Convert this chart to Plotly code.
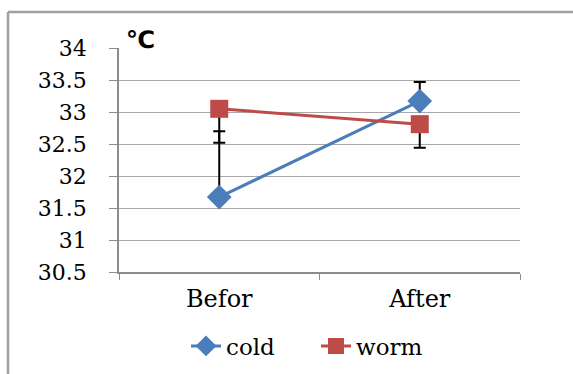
import plotly.graph_objects as go

categories = ["Befor", "After"]
cold = [31.67, 33.17]
worm = [33.05, 32.81]
cold_err_plus = [1.03, 0.30]
worm_err_minus = [0.53, 0.37]
y_ticks = [30.5, 31, 31.5, 32, 32.5, 33, 33.5, 34]

FONT = "DejaVu Serif"
BLUE = "#4A7EBB"
RED = "#BE4B48"
GRAY = "#8C8C8C"

fig = go.Figure()
fig.add_trace(go.Scatter(
    x=categories, y=cold, name="cold", mode="lines+markers",
    line=dict(color=BLUE, width=3),
    marker=dict(symbol="diamond", size=19, color=BLUE),
    error_y=dict(type="data", symmetric=False, array=cold_err_plus,
                 arrayminus=[0, 0], color="black", thickness=2, width=6),
))
fig.add_trace(go.Scatter(
    x=categories, y=worm, name="worm", mode="lines+markers",
    line=dict(color=RED, width=3),
    marker=dict(symbol="square", size=18, color=RED),
    error_y=dict(type="data", symmetric=False, array=[0, 0],
                 arrayminus=worm_err_minus, color="black", thickness=2, width=6),
))

L, R, T, B = 119, 53, 48, 102
W, H = 573, 374
pw, ph = W - L - R, H - T - B

def px(x):
    return (x - L) / pw

def py(y):
    return (H - B - y) / ph

frame_color = "#A0A0A0"
fig.add_shape(type="line", xref="paper", yref="paper",
              x0=px(8), x1=px(573), y0=py(12), y1=py(12),
              line=dict(color=frame_color, width=2.5))
fig.add_shape(type="line", xref="paper", yref="paper",
              x0=px(8), x1=px(8), y0=py(12), y1=py(374),
              line=dict(color=frame_color, width=2.5))

fig.add_annotation(text="<b>℃</b>", xref="paper", yref="paper",
                   x=px(124), y=py(24), showarrow=False,
                   font=dict(family="DejaVu Sans", size=24, color="black"))

fig.update_layout(
    width=W, height=H, margin=dict(l=L, r=R, t=T, b=B, autoexpand=False),
    paper_bgcolor="white", plot_bgcolor="white",
    font=dict(family=FONT, size=20, color="black"),
    showlegend=True,
    legend=dict(orientation="h", x=px(186), xanchor="left",
                y=py(346), yanchor="middle", font=dict(family=FONT, size=23),
                entrywidth=85, entrywidthmode="pixels"),
    xaxis=dict(type="category", range=[-0.5, 1.5], tickson="boundaries",
               ticks="outside", ticklen=6, tickcolor=GRAY, showline=True,
               linecolor=GRAY, linewidth=1.5, showgrid=False,
               ticklabelstandoff=4, tickfont=dict(family=FONT, size=24)),
    yaxis=dict(range=[30.5, 34], tickvals=y_ticks, ticks="outside", ticklen=8,
               tickcolor=GRAY, showline=True, linecolor=GRAY, linewidth=1.5,
               showgrid=True, gridcolor="#A8A8A8", gridwidth=1.3, zeroline=False,
               ticklabelstandoff=18, tickfont=dict(family=FONT, size=22)),
)

fig.write_html("out.html")
